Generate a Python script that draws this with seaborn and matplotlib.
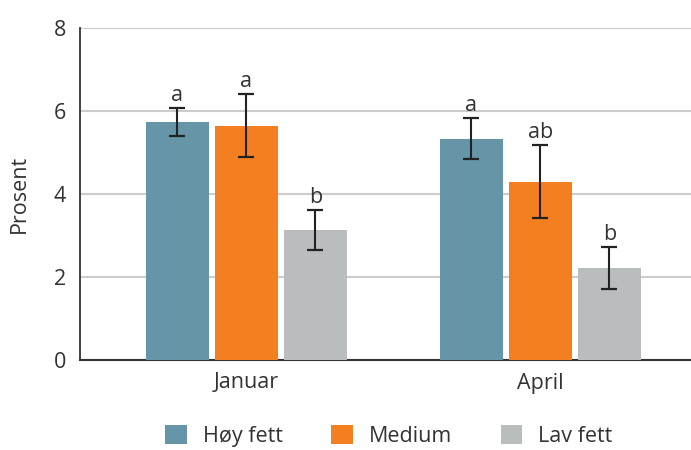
import matplotlib
matplotlib.use("Agg")
import matplotlib.pyplot as plt
import seaborn as sns
import pandas as pd

months = ["Januar", "April"]
groups = ["Høy fett", "Medium", "Lav fett"]
values_hoy = [5.73, 5.33]
values_medium = [5.64, 4.29]
values_lav = [3.13, 2.22]
err_hoy = [0.34, 0.49]
err_medium = [0.76, 0.88]
err_lav = [0.48, 0.50]
letters_hoy = ["a", "a"]
letters_medium = ["a", "ab"]
letters_lav = ["b", "b"]
colors = ["#6595A6", "#F47F20", "#B9BDBE"]

rows = []
for g, vals, errs, lets in zip(groups, [values_hoy, values_medium, values_lav],
                               [err_hoy, err_medium, err_lav],
                               [letters_hoy, letters_medium, letters_lav]):
    for m, v, e, l in zip(months, vals, errs, lets):
        rows.append({"month": m, "group": g, "value": v, "err": e, "letter": l})
df = pd.DataFrame(rows)

sns.set_theme(style="white")
plt.rcParams['font.family'] = ['Open Sans', 'DejaVu Sans']

FS = 15.5
fig = plt.figure(figsize=(6.91, 4.5), dpi=100)
ax = fig.add_axes([80/691, 0.2, 1 - 80/691, 0.9378 - 0.2])

sns.barplot(data=df, x="month", y="value", hue="group", order=months,
            hue_order=groups, palette=colors, width=0.704, gap=0.087,
            errorbar=None, saturation=1, ax=ax, legend=True, zorder=3,
            linewidth=0, edgecolor="none")

# error bars and letters
for gi, g in enumerate(groups):
    cont = ax.containers[gi]
    sub = df[df.group == g].set_index("month").loc[months]
    for bar, (_, r) in zip(cont.patches, sub.iterrows()):
        cx = bar.get_x() + bar.get_width() / 2
        ax.errorbar(cx, r["value"], yerr=r["err"], fmt="none", ecolor="#222222",
                    elinewidth=1.5, capsize=5.5, capthick=1.6, zorder=4)
        ax.annotate(r["letter"], (cx, r["value"] + r["err"]), xytext=(0, 1.5),
                    textcoords="offset points", ha="center", va="bottom",
                    fontsize=FS, color="#333333", zorder=5)

ax.set_ylim(0, 8)
ax.set_xlim(-0.566, 1.512)
ax.set_yticks([0, 2, 4, 6, 8])
ax.yaxis.grid(True, color="#CCCCCC", linewidth=1.5, zorder=0)
ax.set_axisbelow(True)
for s in ["top", "right"]:
    ax.spines[s].set_visible(False)
ax.spines["left"].set_color("#333333")
ax.spines["bottom"].set_color("#333333")
ax.spines["left"].set_linewidth(1.3)
ax.spines["bottom"].set_linewidth(1.5)
ax.tick_params(axis="both", length=0, labelsize=FS, labelcolor="#333333")
ax.tick_params(axis="y", pad=10)
ax.tick_params(axis="x", pad=9)
ax.set_xlabel("")
ax.set_ylabel("Prosent", fontsize=FS, color="#333333", labelpad=17)

handles, labels = ax.get_legend_handles_labels()
ax.legend_.remove()
fig.legend(handles, labels, loc="center", bbox_to_anchor=(0.563, 0.031),
           ncol=3, frameon=False, fontsize=FS, handlelength=1.0, handleheight=1.0,
           columnspacing=2.25, handletextpad=0.75, labelcolor="#333333")

fig.savefig("out.png", dpi=100)
